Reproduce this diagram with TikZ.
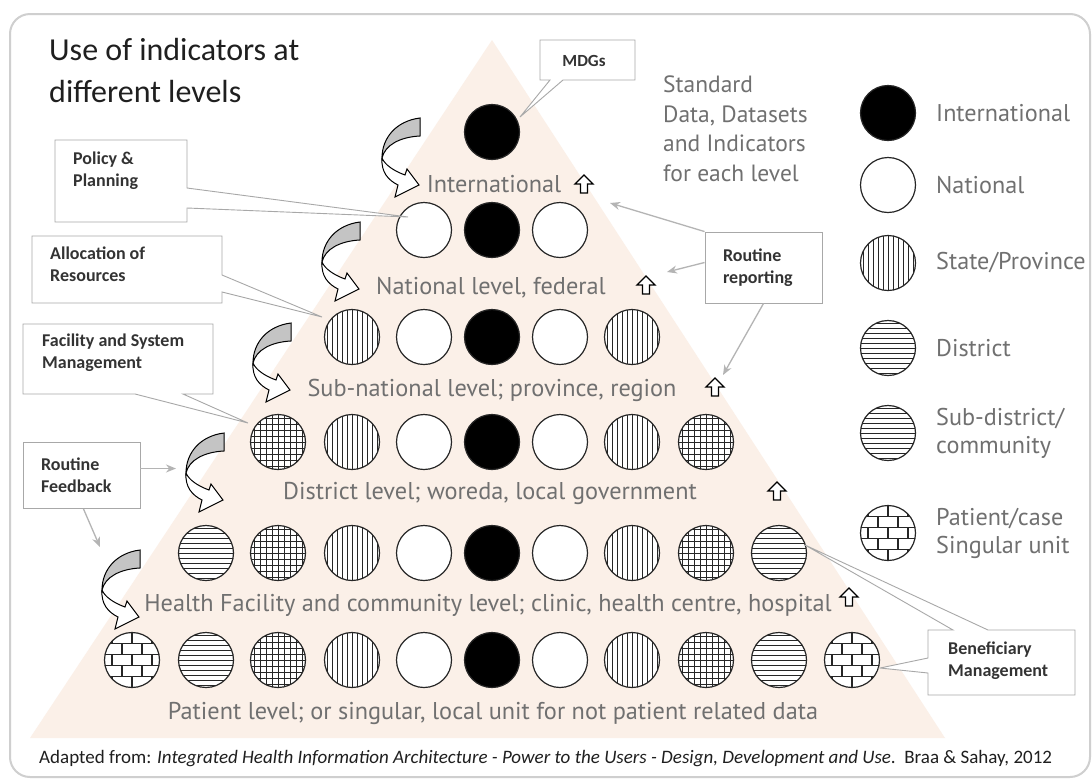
\documentclass[tikz,border=0pt]{standalone}
\usepackage{fontspec}
\setmainfont{Carlito}
\newfontfamily\lvlfont{PT Sans}
\usetikzlibrary{arrows.meta}
\definecolor{peach}{HTML}{FBF0E8}
\definecolor{lvlgray}{HTML}{707070}
\definecolor{boxgray}{HTML}{A8A8A8}
\definecolor{framegray}{HTML}{CFCFCF}
\definecolor{curvgray}{HTML}{C4C4C4}
\definecolor{ptrgray}{HTML}{B4B4B4}
\tikzset{
  dot/.style={circle, draw=black!85, line width=1.2pt, minimum size=55pt, inner sep=0pt, fill=white},
  intl/.style={dot, fill=black},
  natl/.style={dot},
  vstripe/.style={dot, path picture={\foreach \k in {-30,-25,...,30} \draw[line width=0.9pt] ([xshift=\k pt]path picture bounding box.north) -- ([xshift=\k pt]path picture bounding box.south);}},
  hstripe/.style={dot, path picture={\foreach \k in {-30,-25,...,30} \draw[line width=0.9pt] ([yshift=\k pt]path picture bounding box.west) -- ([yshift=\k pt]path picture bounding box.east);}},
  gridc/.style={dot, path picture={\foreach \k in {-30,-24,...,30} {\draw[line width=0.8pt] ([xshift=\k pt]path picture bounding box.north) -- ([xshift=\k pt]path picture bounding box.south); \draw[line width=0.8pt] ([yshift=\k pt]path picture bounding box.west) -- ([yshift=\k pt]path picture bounding box.east);}}},
  brickc/.style={dot, path picture={
     \foreach \k in {-16.5,-5.5,5.5,16.5} \draw[line width=1.8pt] ([yshift=\k pt]path picture bounding box.west) -- ([yshift=\k pt]path picture bounding box.east);
     \foreach \yc/\off in {-22/0,-11/10,0/0,11/10,22/0} \foreach \xx in {-40,-20,0,20,40}
        \draw[line width=1.8pt] ([xshift={(\xx+\off)*1pt}, yshift={(\yc-5.5)*1pt}]path picture bounding box.center) -- ++(0pt,11pt);}},
  callout/.style={draw=boxgray, fill=white, line width=0.9pt},
  boxtext/.style={font=\bfseries\fontsize{18}{22}\selectfont, text=black!80, align=left, inner sep=0pt},
  plainbox/.style={draw=boxgray, fill=white, line width=0.9pt, boxtext, inner xsep=18pt, text width=81pt, minimum height=66pt},
  lvltext/.style={font=\lvlfont\fontsize{24.3}{28}\selectfont, text=lvlgray, inner sep=0pt},
  legtext/.style={font=\lvlfont\fontsize{24.2}{28}\selectfont, text=lvlgray, inner sep=0pt, anchor=west, align=left},
  grayarrow/.style={draw=ptrgray, line width=1.3pt, -{Stealth[length=10pt,width=8pt]}},
  curvarrow/.pic={
    \filldraw[fill=curvgray, line width=1pt] (40,0) .. controls (16,3) and (2,20) .. (2,40) .. controls (5,27) and (20,19) .. (40,18) -- cycle;
    \filldraw[fill=white, line width=1pt] (2,40) .. controls (1,54) and (8,62) .. (18,67) -- (15,79) -- (39,67) -- (27,51) -- (25,57) .. controls (14,53) and (5,47) .. (2,40) -- cycle;
  },
  uparr/.pic={\draw[line width=1.3pt, fill=white] (-3.5,9) -- (-3.5,0) -- (-9,0) -- (0,-9) -- (9,0) -- (3.5,0) -- (3.5,9) -- cycle;}
}
\begin{document}
\begin{tikzpicture}[x=1pt,y=-1pt]
\useasboundingbox (0,0) rectangle (1092,780);
\fill[white] (0,0) rectangle (1092,780);
% frame
\draw[framegray, line width=2pt, rounded corners=20pt] (10,14) rectangle (1090,777);
% pyramid
\fill[peach] (492,40) -- (945,738) -- (30,738) -- cycle;

% title
\node[anchor=north west, align=left, font=\fontsize{32}{42}\selectfont, text=black!88, inner sep=0pt] (title) at (49,38) {Use of indicators at\\different levels};

% circles of the pyramid
\foreach \r/\y/\n in {1/132/0, 2/230/1, 3/337/2, 4/442/3, 5/553/4, 6/660/5}{
  \foreach \j/\x/\t in {-5/132/brickc, -4/206/hstripe, -3/278/gridc, -2/352/vstripe, -1/424/natl, 0/492/intl, 1/560/natl, 2/632/vstripe, 3/706/gridc, 4/779/hstripe, 5/852/brickc}{
    \pgfmathtruncatemacro\aj{abs(\j)}
    \ifnum\aj>\n\relax\else
      \node[\t] (c\r\j) at (\x,\y) {};
    \fi
  }
}

% level labels
\node[lvltext] (l1) at (494,184) {International};
\node[lvltext] (l2) at (491,288) {National level, federal};
\node[lvltext] (l3) at (492,390) {Sub-national level; province, region};
\node[lvltext] (l4) at (490,493) {District level; woreda, local government};
\node[lvltext] (l5) at (488,605) {Health Facility and community level; clinic, health centre, hospital};
\node[lvltext] (l6) at (493,713) {Patient level; or singular, local unit for not patient related data};

% up arrows
\pic at (584,184) {uparr};
\pic at (646,285) {uparr};
\pic at (715,387) {uparr};
\pic at (777,491) {uparr};
\pic at (849,597) {uparr};

% curved arrows
\pic at (380,118) {curvarrow};
\pic at (320,222) {curvarrow};
\pic at (251,323) {curvarrow};
\pic at (184,433) {curvarrow};
\pic at (100,550) {curvarrow};

% standard text
\node[anchor=north west, align=left, font=\lvlfont\fontsize{23.5}{29.5}\selectfont, text=lvlgray, inner sep=0pt] (std) at (663,76) {Standard\\Data, Datasets\\and Indicators\\for each level};

% legend
\node[intl] (g1) at (888,113) {};
\node[natl] (g2) at (888,185) {};
\node[vstripe] (g3) at (888,263) {};
\node[hstripe] (g4) at (888,348) {};
\node[hstripe] (g5) at (888,433) {};
\node[brickc] (g6) at (888,533) {};
\node[legtext] (t1) at (936,113) {International};
\node[legtext] (t2) at (936,185) {National};
\node[legtext] (t3) at (936,263) {State/Province};
\node[legtext] (t4) at (936,348) {District};
\node[legtext] (t5) at (936,433) {Sub-district/\\community};
\node[legtext] (t6) at (936,533) {Patient/case\\Singular unit};

% callouts
\draw[callout] (540,40) -- (635,40) -- (635,80) -- (563,80) -- (520,117) -- (550,80) -- (540,80) -- cycle;
\node[boxtext, font=\bfseries\fontsize{17}{20}\selectfont] (mdg) at (584,61) {MDGs};

\draw[callout] (55,140) -- (187,140) -- (187,188) -- (408,217) -- (187,208) -- (187,222) -- (55,222) -- cycle;
\node[boxtext, anchor=north west] (pol) at (73,152) {Policy \&\\Planning};

\draw[callout] (32,236) -- (222,236) -- (222,275) -- (322,317) -- (222,292) -- (222,303) -- (32,303) -- cycle;
\node[boxtext, anchor=north west] (alloc) at (50,247) {Allocation of\\Resources};

\draw[callout] (23,324) -- (213,324) -- (213,394) -- (183,394) -- (248,423) -- (135,394) -- (23,394) -- cycle;
\node[boxtext, anchor=north west] (fac) at (42,334) {Facility and System\\Management};

\draw[callout] (928,630) -- (953,630) -- (805,545) -- (988,630) -- (1075,630) -- (1075,695) -- (928,695) -- (928,673) -- (880,668) -- (928,658) -- cycle;
\node[boxtext, anchor=north west] (ben) at (948,642) {Beneficiary\\Management};

% routine feedback / reporting
\node[plainbox] (rf) at (81.5,475.5) {Routine\\Feedback};
\node[plainbox, minimum height=71pt] (rr) at (763.5,267.5) {Routine\\reporting};
\coordinate (rfa) at (176,468.5);
\coordinate (rfb) at (100,547);
\coordinate (rra) at (610,203);
\coordinate (rrb) at (667,272);
\coordinate (rrc) at (723,375);
\draw[grayarrow] ([yshift=7pt]rf.east) -- (rfa);
\draw[grayarrow] ([xshift=2pt]rf.south) -- (rfb);
\draw[grayarrow] (rr.north west) -- (rra);
\draw[grayarrow] ([yshift=5pt]rr.west) -- (rrb);
\draw[grayarrow] (rr.south) -- (rrc);

% footer
\node[anchor=west, font=\fontsize{19}{21}\selectfont, text=black!88, inner sep=0pt] (foot) at (39,759) {Adapted from: \textit{Integrated Health Information Architecture - Power to the Users - Design, Development and Use}.\ \ Braa \& Sahay, 2012};
\end{tikzpicture}
\end{document}
